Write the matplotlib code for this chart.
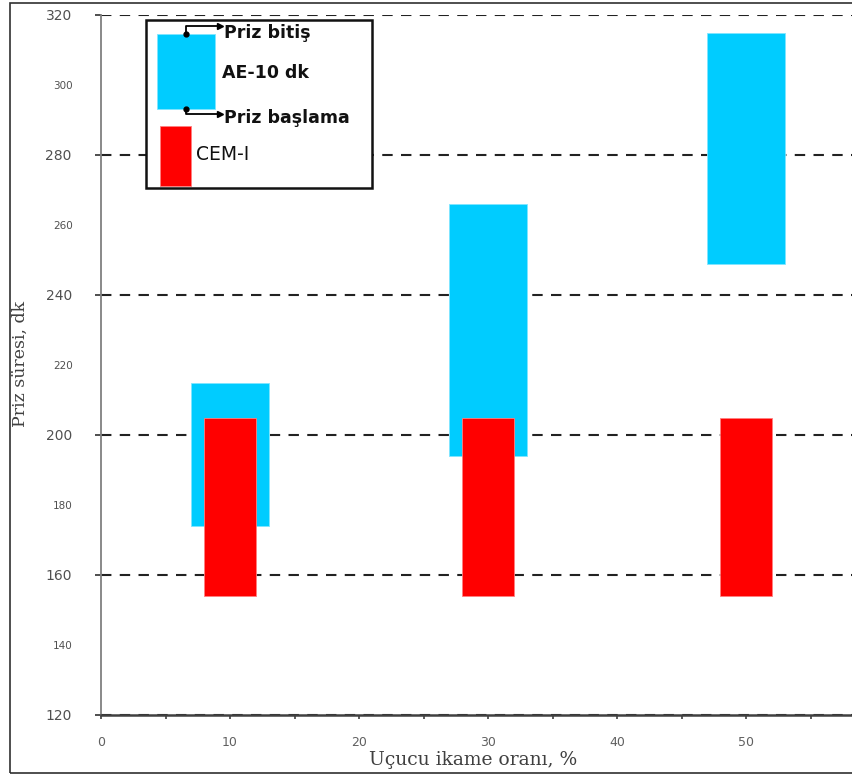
import matplotlib
matplotlib.use("Agg")
import matplotlib.pyplot as plt
from matplotlib.patches import Rectangle
from matplotlib.lines import Line2D
from matplotlib.ticker import MultipleLocator, FixedLocator

# Setting time ranges (initial -> final set), minutes
replacement = [10, 30, 50]          # fly ash replacement ratio, %
ae10_start = [174, 194, 249]
ae10_end = [215, 266, 315]
cem_start = [154, 154, 154]
cem_end = [205, 205, 205]

major_yticks = [120, 160, 200, 240, 280, 320]
minor_yticks = [140, 180, 220, 260, 300]
xtick_labels = ["0", "10", "20", "30", "40", "50"]

W, H = 852, 776
fig = plt.figure(figsize=(W / 100, H / 100), dpi=100)
fig.patch.set_facecolor("white")


def fx(px):
    return px / W


def fy(py):
    return (H - py) / H


# plot area in pixels
left_px, bottom_px, top_px = 101, 715, 15
px_per_unit = 12.9
xmax = 60
ax = fig.add_axes([fx(left_px), fy(bottom_px), xmax * px_per_unit / W,
                   (bottom_px - top_px) / H])

ax.set_xlim(0, xmax)
ax.set_ylim(120, 320)

ax.bar(replacement, [e - s for s, e in zip(ae10_start, ae10_end)],
       bottom=ae10_start, width=6, color="#00CCFF",
       edgecolor="#7FE5FF", linewidth=0.6, zorder=2)
ax.bar(replacement, [e - s for s, e in zip(cem_start, cem_end)],
       bottom=cem_start, width=4, color="#FF0000",
       edgecolor="#FF8080", linewidth=0.6, zorder=3)

# axes styling
for side in ("top", "right"):
    ax.spines[side].set_visible(False)
ax.spines["left"].set_color("#808080")
ax.spines["left"].set_linewidth(1.3)
ax.spines["bottom"].set_color("#404040")
ax.spines["bottom"].set_linewidth(1.8)

ax.yaxis.set_major_locator(FixedLocator(major_yticks))
ax.yaxis.set_minor_locator(FixedLocator(minor_yticks))
ax.set_yticklabels([str(v) for v in major_yticks])
ax.set_yticklabels([str(v) for v in minor_yticks], minor=True)
ax.tick_params(axis="y", which="major", direction="out", length=4,
               width=1.3, color="#404040", pad=17, labelsize=10,
               labelcolor="#505050")
ax.tick_params(axis="y", which="minor", length=0, pad=20.5, labelsize=7.5,
               labelcolor="#505050")

ax.xaxis.set_minor_locator(MultipleLocator(5))
ax.set_xticks(range(0, 60, 10))
ax.set_xticklabels(xtick_labels)
ax.tick_params(axis="x", which="both", direction="out", length=3,
               width=1.2, color="#404040", pad=12, labelsize=9,
               labelcolor="#606060")

ax.grid(axis="y", which="major", color="#222222", linewidth=1.5,
        linestyle=(0, (5, 4)))
ax.set_axisbelow(True)

# axis titles
fig.text(fx(473), fy(760), "Uçucu ikame oranı, %", family="DejaVu Serif",
         fontsize=13.5, color="#404040", ha="center", va="center")
fig.text(fx(20), fy(364), "Priz süresi, dk", family="DejaVu Serif",
         fontsize=12.5, color="#404040", ha="center", va="center",
         rotation=90)

# outer chart frame
fig.add_artist(Rectangle((fx(10), fy(773)), 2.0, (773 - 3) / H,
                         transform=fig.transFigure, fill=False,
                         edgecolor="#303030", linewidth=1.2, zorder=5))

# key box
fig.add_artist(Rectangle((fx(146), fy(188)), (372 - 146) / W, (188 - 20) / H,
                         transform=fig.transFigure, facecolor="white",
                         edgecolor="#111111", linewidth=1.8, zorder=6))
fig.add_artist(Rectangle((fx(157), fy(109)), (215 - 157) / W, (109 - 34) / H,
                         transform=fig.transFigure, facecolor="#00CCFF",
                         edgecolor="#7FE5FF", linewidth=0.6, zorder=7))
fig.add_artist(Rectangle((fx(160), fy(186)), (191 - 160) / W, (186 - 126) / H,
                         transform=fig.transFigure, facecolor="#FF0000",
                         edgecolor="#FF8080", linewidth=0.6, zorder=7))

# pointer lines from the bar ends to their labels
for (x0, y0, y1) in [(186, 34, 26), (186, 109, 114)]:
    fig.add_artist(Line2D([fx(x0), fx(x0), fx(219)], [fy(y0), fy(y1), fy(y1)],
                          transform=fig.transFigure, color="black",
                          linewidth=1.3, zorder=8))
    fig.add_artist(Line2D([fx(x0)], [fy(y0)], transform=fig.transFigure,
                          marker="o", markersize=3.5, color="black", zorder=8))
    fig.add_artist(Line2D([fx(220)], [fy(y1)], transform=fig.transFigure,
                          marker=">", markersize=5, color="black", zorder=8))

key_font = dict(family="DejaVu Sans", color="#111111", va="center",
                ha="left", transform=fig.transFigure, zorder=9)
fig.text(fx(224), fy(33), "Priz bitiş", fontsize=12.5, fontweight="bold", **key_font)
fig.text(fx(222), fy(73), "AE-10 dk", fontsize=12.5, fontweight="bold", **key_font)
fig.text(fx(224), fy(118), "Priz başlama", fontsize=12.5, fontweight="bold", **key_font)
fig.text(fx(196), fy(155), "CEM-I", fontsize=13.5, **key_font)

fig.savefig("out.png", dpi=100)
